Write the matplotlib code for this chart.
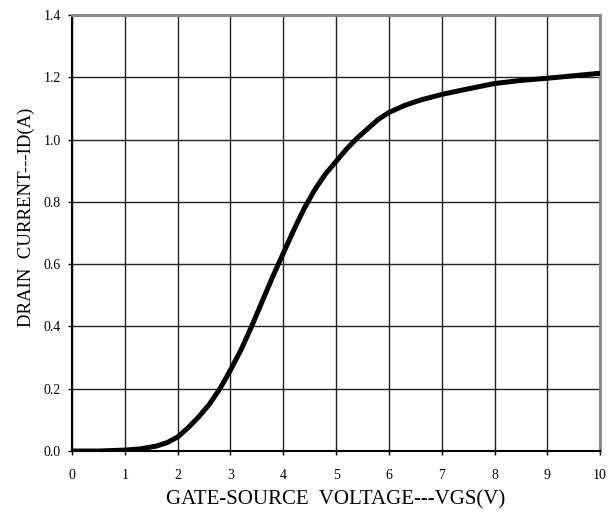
import matplotlib
matplotlib.use('Agg')
import matplotlib.pyplot as plt

# transfer curve
vgs = [0, 0.5, 1.0, 1.3, 1.6, 1.8, 2.0, 2.2, 2.4, 2.6, 2.8, 3.0, 3.2, 3.4,
       3.6, 3.8, 4.0, 4.2, 4.4, 4.6, 4.8, 5.0, 5.2, 5.4, 5.6, 5.8, 6.0,
       6.3, 6.6, 7.0, 7.5, 8.0, 8.5, 9.0, 9.5, 10.0]
id_a = [0, 0.0, 0.003, 0.007, 0.016, 0.027, 0.045, 0.075, 0.11, 0.15, 0.2,
        0.26, 0.325, 0.4, 0.48, 0.56, 0.635, 0.71, 0.78, 0.84, 0.89, 0.93,
        0.97, 1.005, 1.035, 1.065, 1.087, 1.11, 1.127, 1.145, 1.163, 1.18,
        1.19, 1.197, 1.205, 1.213]

x_ticks = list(range(0, 11))
y_ticks = [0.0, 0.2, 0.4, 0.6, 0.8, 1.0, 1.2, 1.4]

plt.rcParams['font.family'] = ['Liberation Serif', 'DejaVu Serif']

fig = plt.figure(figsize=(6.13, 5.18), dpi=100)
ax = fig.add_axes([0.1175, 0.1293, 0.8615, 0.8417])

ax.plot(vgs, id_a, color='black', lw=3.6, solid_capstyle='butt', zorder=3)

ax.set_xlim(0, 10)
ax.set_ylim(0, 1.4)
ax.set_xticks(x_ticks)
ax.set_yticks(y_ticks)
ax.set_yticklabels(['%.1f' % v for v in y_ticks])
ax.grid(True, color='#222222', lw=1.0)
ax.set_axisbelow(True)

ax.tick_params(direction='out', length=3, width=1, colors='black',
               labelsize=10)
ax.tick_params(axis='x', pad=10)
ax.tick_params(axis='y', pad=5)

for s in ['left', 'bottom']:
    ax.spines[s].set_color('black')
    ax.spines[s].set_linewidth(1.5)
for s in ['top', 'right']:
    ax.spines[s].set_color('#8a8a8a')
    ax.spines[s].set_linewidth(2.2)

ax.set_xlabel('GATE-SOURCE  VOLTAGE---VGS(V)', fontsize=15)
ax.set_ylabel('DRAIN  CURRENT---ID(A)', fontsize=13.5)
ax.xaxis.set_label_coords(0.5, -0.09)
ax.yaxis.set_label_coords(-0.07, 0.537)

fig.savefig('out.png', dpi=100)
